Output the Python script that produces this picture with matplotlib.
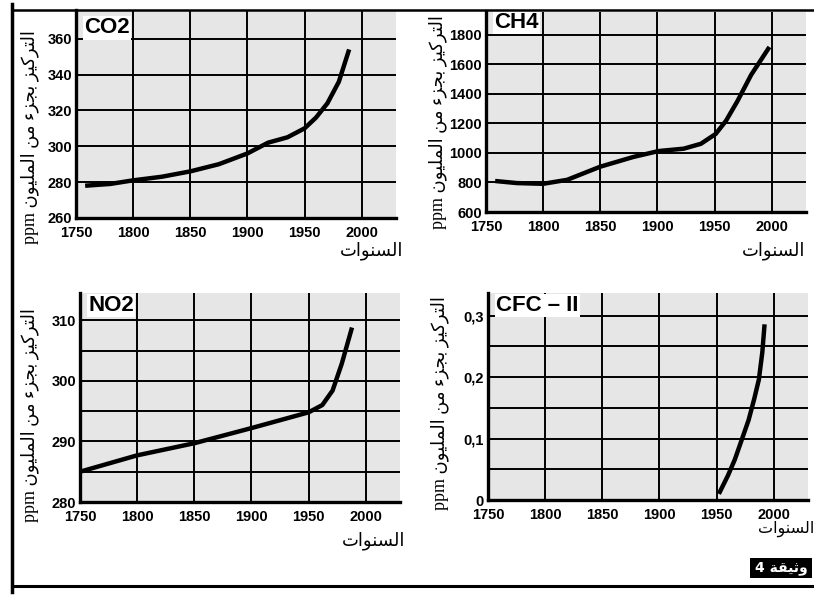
import matplotlib
matplotlib.use("Agg")
import matplotlib.pyplot as plt
from matplotlib.lines import Line2D
from matplotlib.patches import Rectangle

# --- data ---
co2_years = [1758, 1780, 1800, 1825, 1850, 1875, 1900, 1918, 1935, 1950, 1960, 1970, 1980, 1989]
co2_ppm = [278, 279, 281, 283, 286, 290, 296, 302, 305, 310, 316, 324, 336, 354]

ch4_years = [1758, 1777, 1800, 1821, 1850, 1879, 1901, 1923, 1938, 1951, 1960, 1970, 1982, 1998]
ch4_ppm = [810, 796, 791, 818, 907, 973, 1013, 1029, 1062, 1129, 1218, 1351, 1529, 1718]

no2_years = [1750, 1800, 1850, 1900, 1950, 1962, 1971, 1979, 1988]
no2_ppm = [285, 287.7, 289.7, 292.2, 294.8, 296, 298.4, 302.8, 308.8]

cfc_years = [1952, 1960, 1966, 1972, 1978, 1983, 1987, 1990, 1992]
cfc_ppm = [0.01, 0.04, 0.066, 0.098, 0.13, 0.165, 0.196, 0.24, 0.286]

x_ticks = [1750, 1800, 1850, 1900, 1950, 2000]
co2_ticks = [260, 280, 300, 320, 340, 360]
ch4_ticks = [600, 800, 1000, 1200, 1400, 1600, 1800]
no2_ticks = [280, 290, 300, 310]
no2_grid = [285, 295, 305]
cfc_ticks = [0, 0.1, 0.2, 0.3]
cfc_labels = ["0", "0,1", "0,2", "0,3"]
cfc_grid = [0.05, 0.15, 0.25]

# --- minimal arabic shaping (matplotlib does not do it) ---
# isolated, final, initial, medial
FORMS = {
    'ا': ('\uFE8D', '\uFE8E', None, None),
    'ل': ('\uFEDD', '\uFEDE', '\uFEDF', '\uFEE0'),
    'ت': ('\uFE95', '\uFE96', '\uFE97', '\uFE98'),
    'ث': ('\uFE99', '\uFE9A', '\uFE9B', '\uFE9C'),
    'ر': ('\uFEAD', '\uFEAE', None, None),
    'ك': ('\uFED9', '\uFEDA', '\uFEDB', '\uFEDC'),
    'ي': ('\uFEF1', '\uFEF2', '\uFEF3', '\uFEF4'),
    'ز': ('\uFEAF', '\uFEB0', None, None),
    'ب': ('\uFE8F', '\uFE90', '\uFE91', '\uFE92'),
    'ج': ('\uFE9D', '\uFE9E', '\uFE9F', '\uFEA0'),
    'ء': ('\uFE80', None, None, None),
    'م': ('\uFEE1', '\uFEE2', '\uFEE3', '\uFEE4'),
    'ن': ('\uFEE5', '\uFEE6', '\uFEE7', '\uFEE8'),
    'و': ('\uFEED', '\uFEEE', None, None),
    'س': ('\uFEB1', '\uFEB2', '\uFEB3', '\uFEB4'),
    'ق': ('\uFED5', '\uFED6', '\uFED7', '\uFED8'),
    'ة': ('\uFE93', '\uFE94', None, None),
}

def ar(tekst):
    out = []
    for i, ch in enumerate(tekst):
        if ch not in FORMS:
            out.append(ch)
            continue
        prev = tekst[i - 1] if i > 0 else None
        nxt = tekst[i + 1] if i + 1 < len(tekst) else None
        iso, fin, ini, med = FORMS[ch]
        j_prev = prev in FORMS and FORMS[prev][2] is not None and fin is not None
        j_next = ini is not None and nxt in FORMS and FORMS[nxt][1] is not None
        if j_prev and j_next:
            out.append(med)
        elif j_prev:
            out.append(fin)
        elif j_next:
            out.append(ini)
        else:
            out.append(iso)
    return ''.join(reversed(out))

ylab = "ppm " + ar("التركيز بجزء من المليون")
xlab = ar("السنوات")

W, H = 814, 595
fig = plt.figure(figsize=(W / 100, H / 100), dpi=100)
fig.patch.set_facecolor("white")

tick_font = dict(family="Liberation Sans", weight="bold", size=10.5)

def panel(box, years, vals, ylim, ticks, labels, grid_minor, title, title_y):
    l, b, r, t = box
    ax = fig.add_axes([l / W, 1 - b / H, (r - l) / W, (b - t) / H])
    ax.set_facecolor("#e6e6e6")
    ax.plot(years, vals, color="black", lw=3.2, solid_capstyle="butt", zorder=3)
    ax.set_xlim(1750, 2030)
    ax.set_ylim(*ylim)
    ax.set_xticks(x_ticks)
    ax.set_yticks(ticks)
    ax.set_yticklabels(labels if labels else [str(v) for v in ticks])
    if grid_minor:
        ax.set_yticks(grid_minor, minor=True)
    ax.grid(True, which="both", color="black", lw=1.4)
    ax.tick_params(which="both", length=0)
    ax.tick_params(axis="x", pad=5.5)
    ax.tick_params(axis="y", pad=3)
    for lab in ax.get_xticklabels() + ax.get_yticklabels():
        lab.set_fontproperties(tick_font)
    for s in ["top", "right"]:
        ax.spines[s].set_visible(False)
    for s in ["left", "bottom"]:
        ax.spines[s].set_linewidth(2.4)
        ax.spines[s].set_zorder(4)
    ax.text(0.025, title_y, title, transform=ax.transAxes, ha="left", va="top",
            fontsize=16, fontweight="bold", family="Liberation Sans", zorder=5,
            bbox=dict(facecolor="white", edgecolor="none", pad=1))
    return ax

ax1 = panel((76, 218, 396, 10), co2_years, co2_ppm, (260, 376), co2_ticks, None, None, "CO2", 0.965)
ax2 = panel((486, 212, 806, 12), ch4_years, ch4_ppm, (600, 1955), ch4_ticks, None, None, "CH4", 1.0)
ax3 = panel((80, 502, 400, 293), no2_years, no2_ppm, (280, 314.5), no2_ticks, None, no2_grid, "NO2", 0.99)
ax4 = panel((488, 500, 808, 293), cfc_years, cfc_ppm, (0, 0.337), cfc_ticks, cfc_labels, cfc_grid, "CFC – II", 0.99)

# y labels (rotated) and x labels
lab_font = ["Liberation Serif", "DejaVu Sans"]
for x, yc in [(30, 137), (438, 122), (30, 415), (440, 403)]:
    fig.text(x / W, 1 - yc / H, ylab, rotation=90, ha="center", va="center",
             fontsize=13, family=lab_font)
for xr, y, fs in [(403, 251, 13), (805, 251, 13), (405, 541, 13), (814, 529, 11.5)]:
    fig.text(xr / W, 1 - y / H, xlab, ha="right", va="center", fontsize=fs,
             family="DejaVu Sans")

# page frame of the scan
fig.add_artist(Line2D([12 / W, 12 / W], [1 - 4 / H, 1 - 592 / H], color="black", lw=2.5))
fig.add_artist(Line2D([12 / W, 1], [1 - 10 / H, 1 - 10 / H], color="black", lw=1.8))
fig.add_artist(Line2D([12 / W, 1], [1 - 586 / H, 1 - 586 / H], color="black", lw=2.2))

# document tag
fig.add_artist(Rectangle((750 / W, 1 - 578 / H), 62 / W, 20 / H, transform=fig.transFigure,
                         facecolor="black", edgecolor="none"))
fig.text(781 / W, 1 - 568 / H, "4 " + ar("وثيقة"), ha="center", va="center",
         color="white", fontsize=10, fontweight="bold", family="DejaVu Sans")

fig.savefig("out.png", dpi=100)
